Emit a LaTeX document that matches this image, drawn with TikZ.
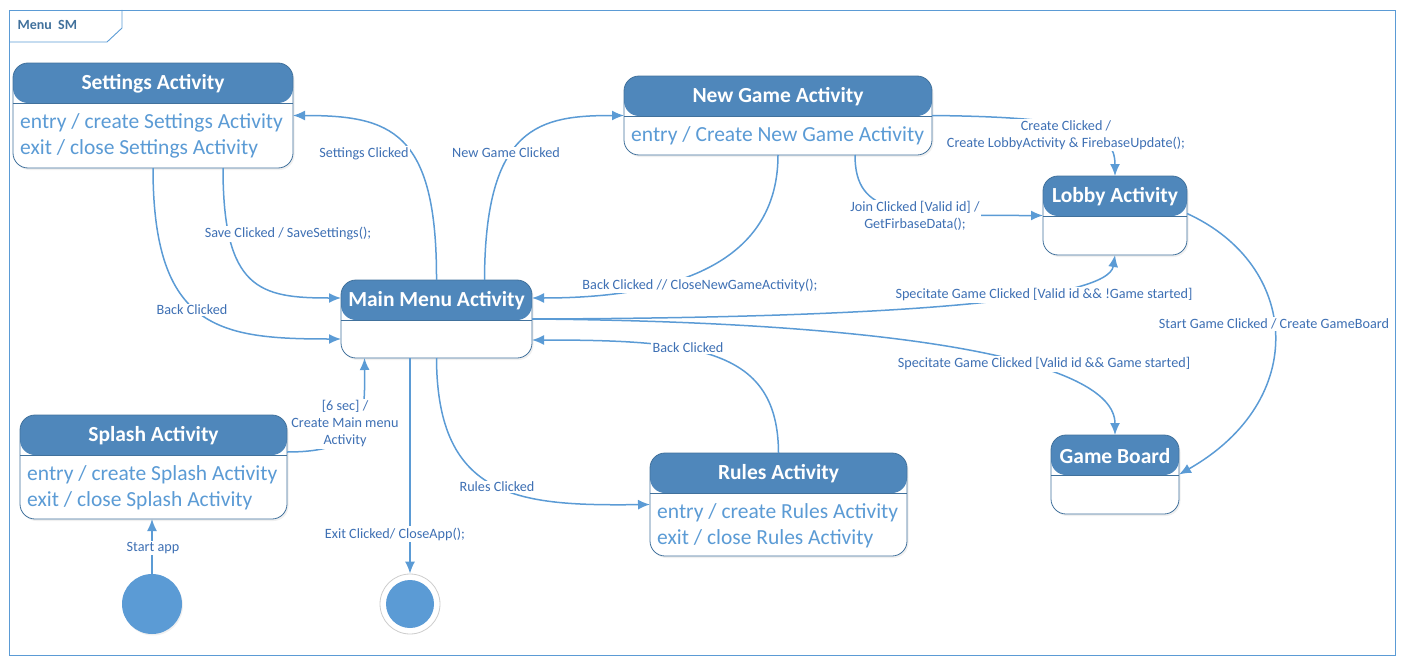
\documentclass[tikz,border=0pt]{standalone}
\usepackage{fontspec}
\setmainfont{Carlito}
\usetikzlibrary{arrows.meta,shadows,calc}

\definecolor{hdrblue}{RGB}{79,135,187}
\definecolor{edgeblue}{RGB}{65,113,156}
\definecolor{lineblue}{RGB}{91,155,213}
\definecolor{lblblue}{RGB}{62,112,180}
\definecolor{ringgray}{RGB}{205,205,205}

\newcommand{\actstate}[6]{%
  \node[actbox, minimum width=#3, minimum height=#4] (#1) at #2 {};
  \node[acttitle] at ([yshift=-21pt]#1.north) {#5};
  \node[actbody, anchor=north west] at ([xshift=7pt,yshift=-50.5pt]#1.north west) {#6};
}

\begin{document}
\begin{tikzpicture}[x=1pt,y=-1pt]
  \tikzstyle{actbox}=[draw=edgeblue, line width=0.8pt, rounded corners=15pt, fill=white,
    inner sep=0pt, outer sep=0pt,
    drop shadow={opacity=0.12, shadow xshift=1.5pt, shadow yshift=-2pt},
    path picture={\fill[hdrblue] (path picture bounding box.north west) rectangle ([yshift=-40pt]path picture bounding box.north east);
      \draw[edgeblue, line width=0.8pt] ([yshift=-40pt]path picture bounding box.north west) -- ([yshift=-40pt]path picture bounding box.north east);}]
  \tikzstyle{acttitle}=[text=white, font=\bfseries\fontsize{21.5}{24}\selectfont, inner sep=0pt]
  \tikzstyle{actbody}=[text=lineblue, font=\fontsize{21.5}{25.5}\selectfont, align=left, inner sep=0pt]
  \tikzstyle{trans}=[draw=lineblue, line width=1.5pt, -{Latex[length=12pt,width=10pt]}]
  \tikzstyle{lbl}=[text=lblblue, font=\fontsize{14.2}{17}\selectfont, fill=white, inner sep=1.5pt, align=center]
  \useasboundingbox (0,0) rectangle (1404,661);

  \draw[lineblue, line width=0.9pt] (9,10) rectangle (1395,655);
  \draw[lineblue, line width=0.9pt] (9,42) -- (107,42) -- (122,28) -- (122,10);
  \node[anchor=west, text=edgeblue, font=\bfseries\fontsize{14}{16}\selectfont] (smname) at (14,25) {Menu~~SM};

  \actstate{settings}{(153,115.5)}{280pt}{105pt}{Settings Activity}{entry / create Settings Activity\\exit / close Settings Activity}
  \actstate{newgame}{(778,115.5)}{308pt}{79pt}{New Game Activity}{entry / Create New Game Activity}
  \actstate{lobby}{(1115,215.5)}{144pt}{79pt}{Lobby Activity}{}
  \actstate{main}{(436.5,319)}{191pt}{78pt}{Main Menu Activity}{}
  \actstate{splash}{(153.5,467)}{267pt}{104pt}{Splash Activity}{entry / create Splash Activity\\exit / close Splash Activity}
  \actstate{rules}{(778.5,504.5)}{257pt}{103pt}{Rules Activity}{entry / create Rules Activity\\exit / close Rules Activity}
  \actstate{gameboard}{(1115,474.5)}{128pt}{79pt}{Game Board}{}

  \node[circle, fill=lineblue, minimum size=60pt, inner sep=0pt, drop shadow={opacity=0.12, shadow xshift=1pt, shadow yshift=-1.5pt}] (init) at (152,604) {};
  \node[circle, draw=ringgray, line width=0.8pt, fill=white, minimum size=60pt, inner sep=0pt] (final) at (410,604) {};
  \node[circle, fill=lineblue, minimum size=48pt, inner sep=0pt] (finaldot) at (final) {};

  \draw[trans] (main.north) .. controls (437,130) and (390,115.5) .. (settings.east);
  \draw[trans] ([xshift=48pt]main.north) .. controls (485,125) and (540,115.5) .. (newgame.west);
  \draw[trans] (newgame.south) .. controls (778,275) and (650,298) .. ([yshift=21pt]main.east);
  \draw[trans] ([xshift=70pt]settings.south) .. controls (223,290) and (260,298) .. ([yshift=21pt]main.west);
  \draw[trans] (settings.south) .. controls (153,330) and (220,339) .. ([yshift=-20pt]main.west);
  \draw[trans] ([yshift=15pt]splash.east) .. controls (365,452) and (365,420) .. ([xshift=-72pt]main.south);
  \draw[trans] (init.north) -- (init.north |- splash.south);
  \draw[trans] (final.north |- main.south) -- (final.north);
  \draw[trans] (main.south) .. controls (437,500) and (520,506) .. (rules.west);
  \draw[trans] (rules.north) .. controls (778,350) and (700,340) .. ([yshift=-21pt]main.east);
  \draw[trans] (newgame.east) .. controls (1080,117) and (1115,130) .. (lobby.north);
  \draw[trans] ([xshift=77pt]newgame.south) .. controls (855,215.5) and (900,215.5) .. (lobby.west);
  \draw[trans] (main.east) .. controls (900,318) and (1108,300) .. (lobby.south);
  \draw[trans] (main.east) .. controls (900,322) and (1115,360) .. (gameboard.north);
  \draw[trans] ([yshift=2pt]lobby.east) .. controls (1300,265) and (1310,400) .. (gameboard.east);

  \node[lbl] (lblsettings) at (364,154) {Settings Clicked};
  \node[lbl] (lblnewgame) at (506,153) {New Game Clicked};
  \node[lbl] (lblngback) at (700,285) {Back Clicked // CloseNewGameActivity();};
  \node[lbl] (lblsave) at (288,234) {Save Clicked / SaveSettings();};
  \node[lbl] (lblsetback) at (192,310) {Back Clicked};
  \node[lbl] (lblsplash) at (345,424) {[6 sec] /\\Create Main menu\\Activity};
  \node[lbl] (lblstart) at (153,548) {Start app};
  \node[lbl] (lblexit) at (395,534) {Exit Clicked/ CloseApp();};
  \node[lbl] (lblrules) at (497,487) {Rules Clicked};
  \node[lbl] (lblrulesback) at (688,348) {Back Clicked};
  \node[lbl] (lblcreate) at (1066,135) {Create Clicked /\\Create LobbyActivity \& FirebaseUpdate();};
  \node[lbl] (lbljoin) at (915,216) {Join Clicked [Valid id] /\\GetFirbaseData();};
  \node[lbl] (lblspeclobby) at (1044,295) {Specitate Game Clicked [Valid id \&\& !Game started]};
  \node[lbl] (lblspecgame) at (1044,364) {Specitate Game Clicked [Valid id \&\& Game started]};
  \node[lbl] (lblstartgame) at (1274,324) {Start Game Clicked / Create GameBoard};
\end{tikzpicture}
\end{document}
